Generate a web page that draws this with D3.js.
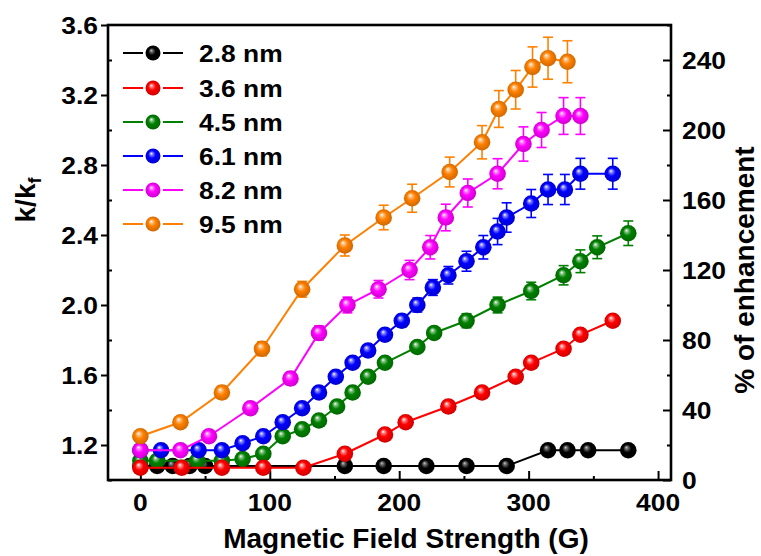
<!DOCTYPE html>
<html><head><meta charset="utf-8">
<script src="https://cdn.jsdelivr.net/npm/d3@7"></script>
<style>
body{margin:0;background:#fff}
svg{display:block}
text{font-family:"Liberation Sans",Arial,sans-serif;font-weight:bold;fill:#000}
</style>
</head><body><svg id="chart" width="761" height="556"></svg>
<script>
// ---------- data ----------
const seriesNames = ["2.8 nm","3.6 nm","4.5 nm","6.1 nm","8.2 nm","9.5 nm"];
const seriesColors = ["#000000","#ff0000","#008000","#0000ff","#ff00ff","#ff8000"];

const field_28 = [0,13,25,38,50,158,188,221,252,283,315,330,346,377];
const k_28     = [1.08,1.08,1.08,1.08,1.08,1.08,1.08,1.08,1.08,1.08,1.17,1.17,1.17,1.17];
const err_28   = [0.02,0.02,0.02,0.02,0.02,0.02,0.02,0.02,0.02,0.02,0.02,0.02,0.02,0.02];

const field_36 = [0,32,63,95,126,158,189,205,238,264,290,302,327,340,365];
const k_36     = [1.07,1.07,1.07,1.07,1.07,1.15,1.26,1.33,1.42,1.50,1.59,1.67,1.75,1.83,1.91];
const err_36   = [0.02,0.02,0.02,0.02,0.02,0.03,0.03,0.03,0.03,0.03,0.03,0.03,0.03,0.03,0.03];

const field_45 = [0,13,44,63,79,95,110,125,138,152,164,176,189,214,227,252,276,302,327,340,353,377];
const k_45     = [1.11,1.11,1.11,1.11,1.12,1.15,1.25,1.29,1.34,1.42,1.50,1.59,1.67,1.76,1.84,1.91,2.00,2.08,2.17,2.25,2.33,2.41];
const err_45   = [0.02,0.02,0.02,0.02,0.02,0.02,0.02,0.02,0.02,0.02,0.03,0.03,0.03,0.03,0.03,0.04,0.045,0.05,0.055,0.065,0.065,0.07];

const field_61 = [0,16,45,63,79,95,110,125,138,151,164,176,189,202,214,226,238,252,265,276,283,302,315,328,340,365];
const k_61     = [1.17,1.17,1.17,1.17,1.21,1.25,1.33,1.41,1.50,1.59,1.67,1.74,1.83,1.91,2.00,2.10,2.17,2.25,2.33,2.42,2.50,2.58,2.66,2.66,2.75,2.75];
const err_61   = [0.02,0.02,0.02,0.02,0.02,0.02,0.02,0.02,0.03,0.03,0.03,0.03,0.03,0.035,0.04,0.045,0.05,0.057,0.067,0.075,0.084,0.08,0.086,0.086,0.088,0.088];

const field_82 = [0,31,53,85,116,138,160,184,208,224,236,253,276,296,310,327,340];
const k_82     = [1.17,1.17,1.25,1.41,1.58,1.84,2.00,2.09,2.20,2.33,2.50,2.64,2.75,2.92,3.00,3.08,3.08];
const err_82   = [0.02,0.02,0.03,0.03,0.035,0.04,0.045,0.05,0.055,0.067,0.076,0.08,0.086,0.098,0.10,0.105,0.105];

const field_95 = [0,31,63,94,125,158,188,210,239,264,277,290,303,315,330];
const k_95     = [1.25,1.33,1.50,1.75,2.09,2.34,2.50,2.61,2.76,2.93,3.12,3.23,3.36,3.41,3.39];
const err_95   = [0.02,0.03,0.035,0.04,0.045,0.06,0.07,0.08,0.085,0.095,0.105,0.11,0.115,0.12,0.12];

const xTicks = [0,100,200,300,400];
const xMinor = [50,150,250,350];
const yTicks = [1.2,1.6,2.0,2.4,2.8,3.2,3.6];
const yMinor = [1.0,1.4,1.8,2.2,2.6,3.0,3.4];
const pctTicks = [0,40,80,120,160,200,240];
const pctMinor = [20,60,100,140,180,220,260];

const xTitle = "Magnetic Field Strength (G)";
const yTitle = "k/k";
const ySub = "f";
const rTitle = "% of enhancement";

// drawing order (bottom -> top)
const drawOrder = [0,2,1,3,4,5];
const allX = [field_28,field_36,field_45,field_61,field_82,field_95];
const allK = [k_28,k_36,k_45,k_61,k_82,k_95];
const allE = [err_28,err_36,err_45,err_61,err_82,err_95];

// ---------- layout ----------
const L = 108, R = 671, T = 25, B = 480;
const svg = d3.select("#chart");
const x = d3.scaleLinear().domain([-25, 410]).range([L, R]);
const y = d3.scaleLinear().domain([1.0, 3.6]).range([B, T]);
const yr = d3.scaleLinear().domain([0, 260]).range([B, T]);

// gradients
const defs = svg.append("defs");
seriesColors.forEach((c, i) => {
  const base = d3.color(c);
  const g = defs.append("radialGradient").attr("id", "ball" + i)
    .attr("cx", "50%").attr("cy", "50%").attr("r", "55%")
    .attr("fx", "38%").attr("fy", "32%");
  const light = i === 0 ? "#c8c8c8" : "#ffffff";
  const mid = d3.interpolateRgb(light, c)(0.5);
  g.append("stop").attr("offset", "0%").attr("stop-color", light);
  g.append("stop").attr("offset", "18%").attr("stop-color", mid);
  g.append("stop").attr("offset", "45%").attr("stop-color", c);
  g.append("stop").attr("offset", "100%").attr("stop-color", i === 0 ? "#000" : base.darker(0.7).formatHex());
});

const sx = 1.1;
function label(sel, txt, tx, ty, size, anchor, scaleX) {
  return sel.append("text").text(txt)
    .attr("transform", `translate(${tx},${ty}) scale(${scaleX},1)`)
    .attr("text-anchor", anchor).style("font-size", size + "px");
}

// ---------- axes ----------
const ax = svg.append("g");
ax.append("g").attr("transform", `translate(${L},0)`)
  .call(d3.axisLeft(y).tickValues(yTicks).tickSize(7).tickFormat(""))
  .call(g => g.select(".domain").remove())
  .selectAll("line").attr("stroke", "#000").attr("stroke-width", 2);
ax.append("g").attr("transform", `translate(${L},0)`)
  .call(d3.axisLeft(y).tickValues(yMinor).tickSize(-4).tickFormat(""))
  .call(g => g.select(".domain").remove())
  .selectAll("line").attr("stroke", "#000").attr("stroke-width", 2);
ax.append("g").attr("transform", `translate(0,${B})`)
  .call(d3.axisBottom(x).tickValues(xTicks).tickSize(-9).tickFormat(""))
  .call(g => g.select(".domain").remove())
  .selectAll("line").attr("stroke", "#000").attr("stroke-width", 2);
ax.append("g").attr("transform", `translate(0,${B})`)
  .call(d3.axisBottom(x).tickValues(xMinor).tickSize(-4).tickFormat(""))
  .call(g => g.select(".domain").remove())
  .selectAll("line").attr("stroke", "#000").attr("stroke-width", 2);
ax.append("g").attr("transform", `translate(${R},0)`)
  .call(d3.axisRight(yr).tickValues(pctTicks).tickSize(-8).tickFormat(""))
  .call(g => g.select(".domain").remove())
  .selectAll("line").attr("stroke", "#000").attr("stroke-width", 2);
ax.append("g").attr("transform", `translate(${R},0)`)
  .call(d3.axisRight(yr).tickValues(pctMinor).tickSize(-4).tickFormat(""))
  .call(g => g.select(".domain").remove())
  .selectAll("line").attr("stroke", "#000").attr("stroke-width", 2);
svg.append("rect").attr("x", L).attr("y", T).attr("width", R - L).attr("height", B - T)
  .attr("fill", "none").attr("stroke", "#000").attr("stroke-width", 2.6);

// tick labels
const tl = svg.append("g");
yTicks.forEach(v => label(tl, d3.format(".1f")(v), L - 10, y(v) + 8.5, 24, "end", sx));
xTicks.forEach(v => label(tl, String(v), x(v), B + 31, 24, "middle", sx));
pctTicks.forEach(v => label(tl, String(v), R + 11, yr(v) + 8.5, 24, "start", sx));

// titles
label(svg, xTitle, 406, 548, 28, "middle", 1);
const yt = svg.append("text").attr("transform", "translate(35,200) rotate(-90)")
  .attr("text-anchor", "middle").style("font-size", "28px");
yt.append("tspan").text(yTitle);
yt.append("tspan").text(ySub).attr("dy", 6).style("font-size", "18px");
svg.append("text").attr("transform", "translate(754,270) rotate(-90)")
  .attr("text-anchor", "middle").style("font-size", "28px").text(rTitle);

// ---------- series ----------
const plot = svg.append("g");
const line = d3.line().x(d => x(d.f)).y(d => y(d.k));
drawOrder.forEach(i => {
  const data = allX[i].map((f, j) => ({f, k: allK[i][j], e: allE[i][j]}));
  const g = plot.append("g");
  g.append("path").datum(data).attr("d", line).attr("fill", "none")
    .attr("stroke", seriesColors[i]).attr("stroke-width", 2);
  const eb = g.selectAll(".eb").data(data).enter().append("g");
  eb.append("line").attr("x1", d => x(d.f)).attr("x2", d => x(d.f))
    .attr("y1", d => y(d.k - d.e)).attr("y2", d => y(d.k + d.e))
    .attr("stroke", seriesColors[i]).attr("stroke-width", 1.6);
  [-1, 1].forEach(s => {
    eb.append("line").attr("x1", d => x(d.f) - 5).attr("x2", d => x(d.f) + 5)
      .attr("y1", d => y(d.k + s * d.e)).attr("y2", d => y(d.k + s * d.e))
      .attr("stroke", seriesColors[i]).attr("stroke-width", 1.6);
  });
  g.selectAll("circle").data(data).enter().append("circle")
    .attr("cx", d => x(d.f)).attr("cy", d => y(d.k)).attr("r", 8.3)
    .attr("fill", `url(#ball${i})`);
});

// ---------- legend ----------
const lg = svg.append("g");
const legY = [53, 88, 122, 156, 190, 224];
seriesNames.forEach((n, i) => {
  const cy = legY[i];
  lg.append("line").attr("x1", 123).attr("x2", 143).attr("y1", cy).attr("y2", cy)
    .attr("stroke", seriesColors[i]).attr("stroke-width", 2);
  lg.append("line").attr("x1", 163).attr("x2", 183).attr("y1", cy).attr("y2", cy)
    .attr("stroke", seriesColors[i]).attr("stroke-width", 2);
  lg.append("circle").attr("cx", 153).attr("cy", cy).attr("r", 7.5).attr("fill", `url(#ball${i})`);
  label(lg, n, 199, cy + 8.5, 24, "start", sx);
});
</script>
</body></html>
